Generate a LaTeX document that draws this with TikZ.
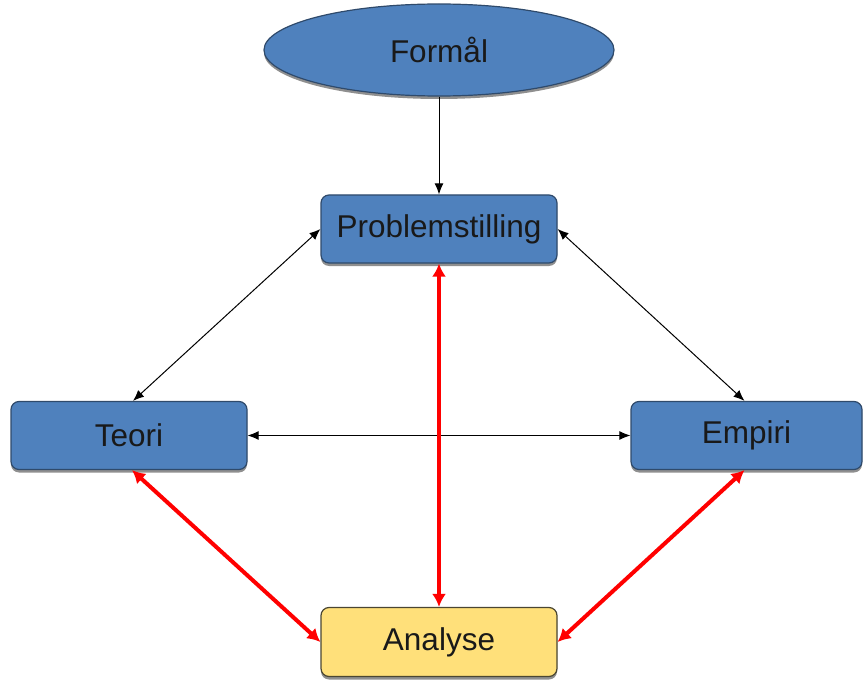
\documentclass[tikz,border=0pt]{standalone}
\usepackage{fontspec}
\setmainfont{Liberation Sans}
\usetikzlibrary{shapes.geometric,shadows,arrows.meta}
\definecolor{boxblue}{HTML}{4F81BD}
\definecolor{boxedge}{HTML}{2F4A6B}
\definecolor{boxyellow}{HTML}{FFE07A}
\definecolor{yedge}{HTML}{4A4632}
\begin{document}
\begin{tikzpicture}[x=1pt,y=-1pt,
  base/.style={draw=boxedge, line width=1.2pt, font=\fontsize{31.5}{36}\selectfont, text=black!90,
    drop shadow={shadow xshift=0pt, shadow yshift=-3pt, fill=black!55, opacity=0.8}},
  bluebox/.style={base, fill=boxblue, rounded corners=8pt, minimum width=236pt, minimum height=68pt, inner sep=0pt},
  yelbox/.style={base, draw=yedge, fill=boxyellow, rounded corners=8pt, minimum width=236pt, minimum height=69pt, inner sep=0pt},
  oval/.style={base, ellipse, fill=boxblue, minimum width=350pt, minimum height=92pt, inner sep=0pt},
  thin/.style={draw=black, line width=1pt, -{Latex[length=11pt,width=9pt]}},
  thinboth/.style={draw=black, line width=1pt, {Latex[length=11pt,width=9pt]}-{Latex[length=11pt,width=9pt]}},
  redboth/.style={draw=red, line width=4pt, {Latex[length=13pt,width=14pt]}-{Latex[length=13pt,width=14pt]}}
]
\useasboundingbox (0,0) rectangle (863,682);
\node[oval] (formal) at (439,50) {Formål};
\node[bluebox] (prob) at (439,229) {Problemstilling};
\node[bluebox] (teori) at (129,435.5) {Teori};
\node[bluebox, minimum width=231pt] (empiri) at (746.5,435.5) {Empiri};
\node[yelbox] (analyse) at (439,642) {Analyse};
\draw[thin] (formal.south) -- (prob.north);
\draw[thinboth] (prob.west) -- ([xshift=4pt]teori.north);
\draw[thinboth] (prob.east) -- ([xshift=-2pt]empiri.north);
\draw[thinboth] (teori.east) -- (empiri.west);
\draw[redboth] (prob.south) -- (analyse.north);
\draw[redboth] ([xshift=3pt]teori.south) -- (analyse.west);
\draw[redboth] ([xshift=-2pt]empiri.south) -- (analyse.east);
\end{tikzpicture}
\end{document}
